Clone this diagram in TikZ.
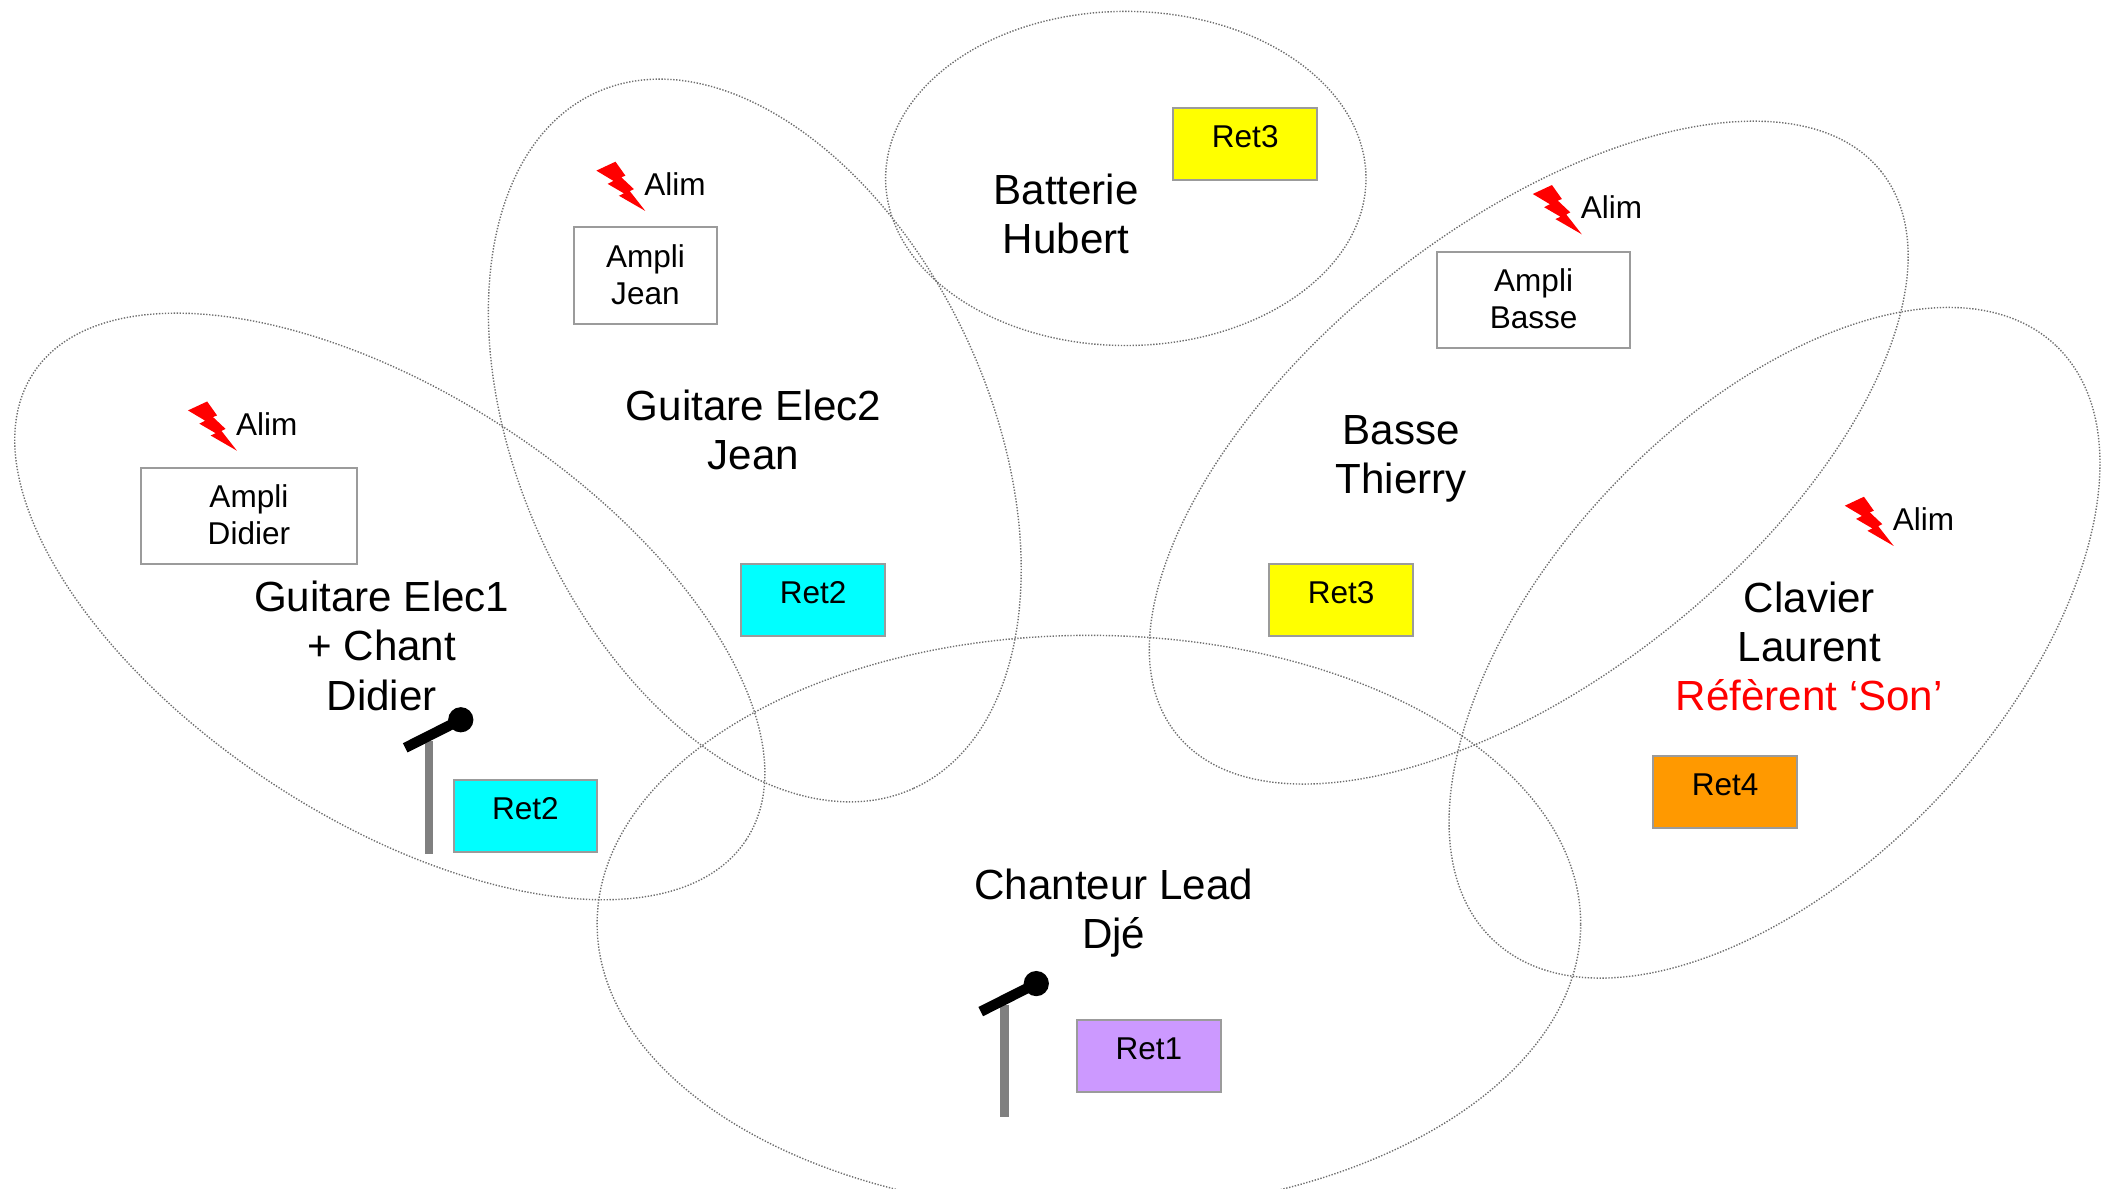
\documentclass[tikz,border=0pt]{standalone}
\usepackage{fontspec}
\setmainfont{Liberation Sans}
\definecolor{boxgray}{RGB}{155,155,155}
\definecolor{zonegray}{RGB}{110,110,110}
\definecolor{standgray}{RGB}{128,128,128}
\definecolor{retcyan}{RGB}{0,255,255}
\definecolor{retyellow}{RGB}{255,255,0}
\definecolor{retorange}{RGB}{255,153,0}
\definecolor{retlav}{RGB}{204,153,255}
\definecolor{refred}{RGB}{255,0,0}
\newcommand\bigfnt{\fontsize{31.4}{36.6}\selectfont}
\newcommand\smallfnt{\fontsize{23.5}{27.7}\selectfont}
\newcommand\mylines[1]{\begin{tabular}[t]{@{}c@{}}#1\end{tabular}}
\begin{document}
\begin{tikzpicture}[x=1pt,y=-1pt,
  zone/.style={draw=zonegray, line width=1.05pt, dash pattern=on 1pt off 1.2pt},
  box/.style={draw=boxgray, line width=1.5pt, inner sep=0pt, outer sep=0pt, font=\smallfnt},
  retbox/.style={box, minimum width=107pt, minimum height=54pt, text height=18pt, text depth=12.4pt},
  amplibox/.style={box, minimum height=72pt, text height=10pt, text depth=22.7pt},
  biglabel/.style={anchor=base, inner sep=0pt},
  alim/.style={anchor=base west, inner sep=0pt, font=\smallfnt},
  bolt/.pic={\fill[refred] (14.29,0) -- (0,6.67) -- (12.78,14.30) -- (8.44,16.52) -- (20.61,23.62) -- (16.88,25.37) -- (36.5,36.7) -- (24.96,21.94) -- (27.98,20.42) -- (18.64,11.62) -- (21.68,10.40) -- cycle;},
  mic/.pic={\draw[line width=6.2pt, draw=standgray] (0,0) -- (0,84.2);
            \draw[line width=7.7pt, draw=black] (-17.7,5.3) -- (23.7,-15.6);
            \fill[black] (23.7,-15.6) circle[radius=9.4pt];}
  ]
\useasboundingbox (0,0) rectangle (1568,885.4);
\clip (0,0) rectangle (1568,885.4);

% zones
\coordinate (zElecA) at (290.5,452);
\coordinate (zElecB) at (562.5,328.3);
\coordinate (zBatt) at (839,133);
\coordinate (zBasse) at (1139.3,337.3);
\coordinate (zClav) at (1322.5,479);
\coordinate (zChant) at (811.5,688.5);
\draw[zone, rotate around={-33.2:(zElecA)}] (zElecA) ellipse [x radius=317.5pt, y radius=158.3pt];
\draw[zone, rotate around={-65.45:(zElecB)}] (zElecB) ellipse [x radius=285pt, y radius=175.2pt];
\draw[zone] (zBatt) ellipse [x radius=179pt, y radius=124.5pt];
\draw[zone, rotate around={38.56:(zBasse)}] (zBasse) ellipse [x radius=336pt, y radius=167.4pt];
\draw[zone, rotate around={46.6:(zClav)}] (zClav) ellipse [x radius=305pt, y radius=168pt];
\draw[zone] (zChant) ellipse [x radius=366.5pt, y radius=215pt];

% amplis
\node[amplibox, minimum width=106pt] (ampjean) at (481,205.5) {\mylines{Ampli\\Jean}};
\node[amplibox, minimum width=161pt] (ampdidier) at (185.5,384.5) {\mylines{Ampli\\Didier}};
\node[amplibox, minimum width=143.8pt] (ampbasse) at (1142.9,223.6) {\mylines{Ampli\\Basse}};

% retours
\node[retbox, fill=retyellow] (ret3batt) at (928,107.2) {Ret3};
\node[retbox, fill=retcyan] (ret2jean) at (606,447) {Ret2};
\node[retbox, fill=retcyan] (ret2didier) at (391.5,608) {Ret2};
\node[retbox, fill=retyellow] (ret3basse) at (999.5,447) {Ret3};
\node[retbox, fill=retorange] (ret4) at (1285.7,590.2) {Ret4};
\node[retbox, fill=retlav] (ret1) at (856.2,787) {Ret1};

% power
\pic (boltjean) at (444.4,120.5) {bolt};
\pic (boltdidier) at (140.1,299.2) {bolt};
\pic (boltbasse) at (1142.3,137.9) {bolt};
\pic (boltclav) at (1374.8,370.2) {bolt};
\node[alim] (alimjean) at (480,145.8) {Alim};
\node[alim] (alimdidier) at (175.7,324.5) {Alim};
\node[alim] (alimbasse) at (1177.9,163.2) {Alim};
\node[alim] (alimclav) at (1410.4,395.7) {Alim};

% labels
\node[biglabel] (lbatt) at (794.5,152.4) {\bigfnt\mylines{Batterie\\Hubert}};
\node[biglabel] (lelec2) at (561.5,313.3) {\bigfnt\mylines{Guitare Elec2\\Jean}};
\node[biglabel] (lbasse) at (1044.3,331) {\bigfnt\mylines{Basse\\Thierry}};
\node[biglabel] (lelec1) at (284.5,456) {\bigfnt\mylines{Guitare Elec1\\+ Chant\\Didier}};
\node[biglabel] (lclav) at (1348.4,456.1) {\bigfnt\mylines{Clavier\\Laurent\\\textcolor{refred}{Réfèrent ‘Son’}}};
\node[biglabel] (lchant) at (830,670) {\bigfnt\mylines{Chanteur Lead\\Djé}};

% microphones
\pic (micdidier) at (319.7,552) {mic};
\pic (micdje) at (748.6,748.6) {mic};
\end{tikzpicture}
\end{document}
